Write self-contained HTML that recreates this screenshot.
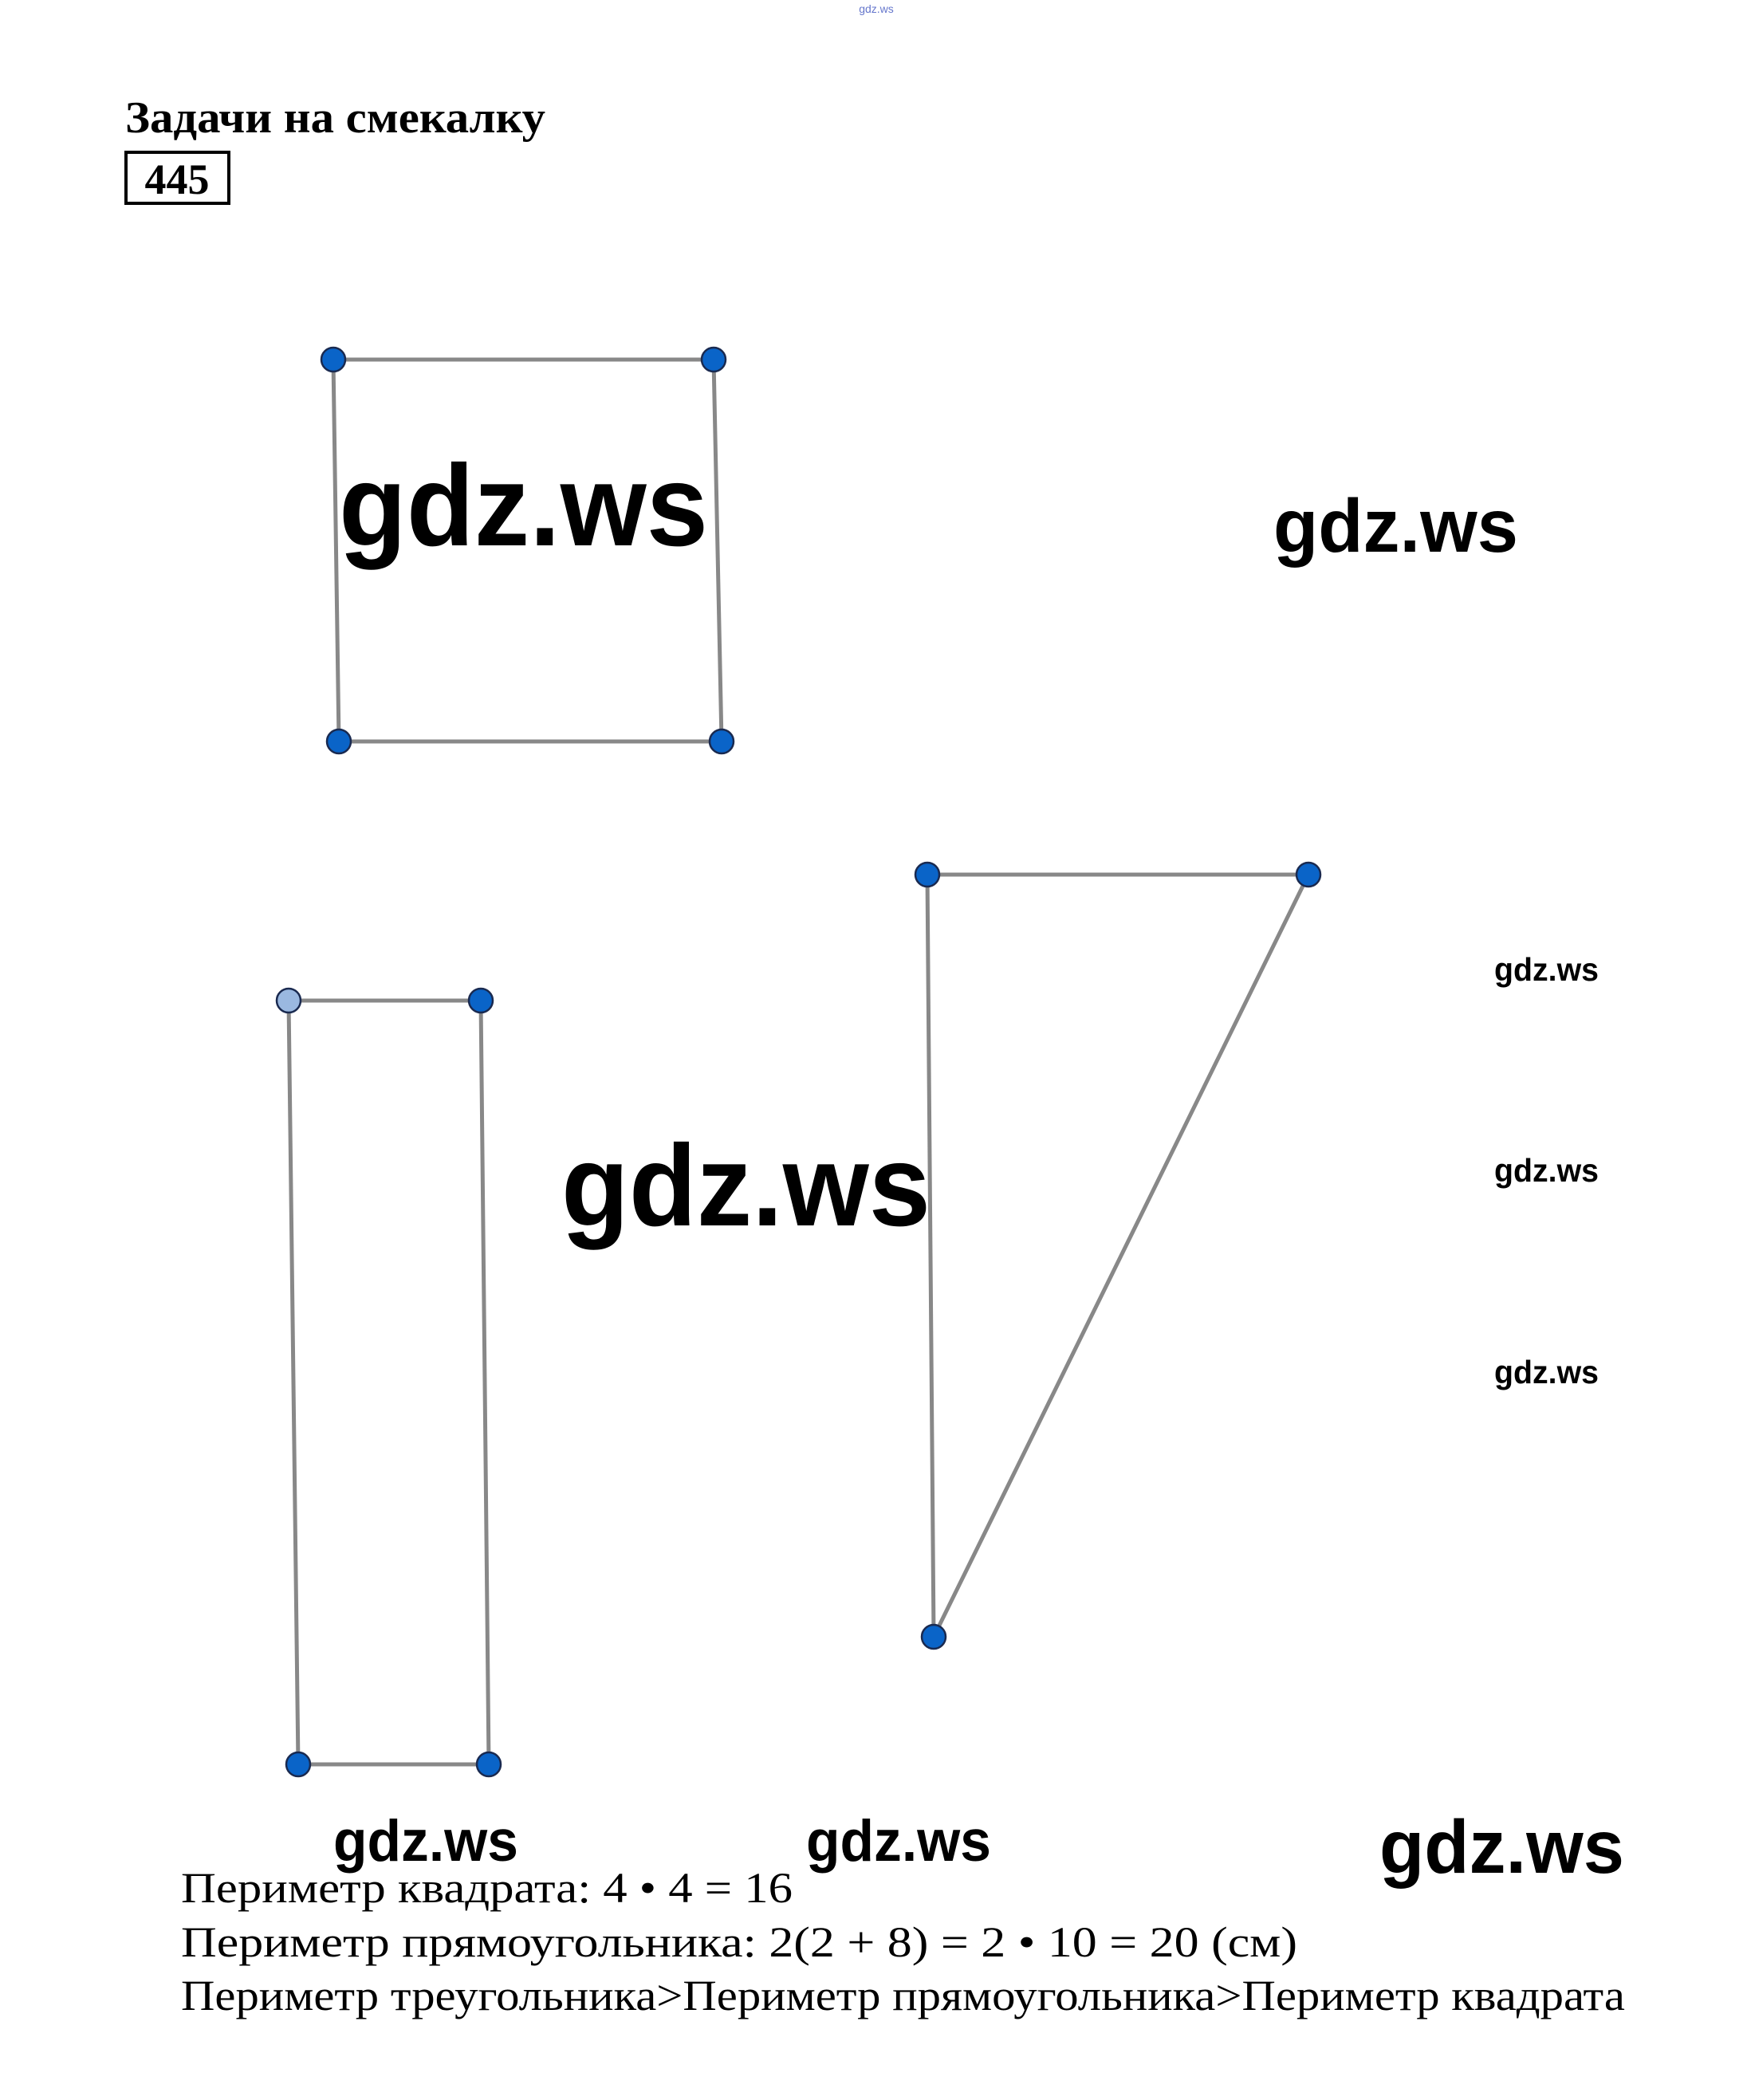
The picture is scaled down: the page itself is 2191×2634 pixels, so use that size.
<!DOCTYPE html>
<html><head><meta charset="utf-8"><style>
html,body{margin:0;padding:0;background:#fff;}
svg{display:block;}
</style></head><body>
<svg width="2191" height="2634" viewBox="0 0 2191 2634" xmlns="http://www.w3.org/2000/svg">
<rect width="2191" height="2634" fill="#fff"/>
<text x="1099" y="16" font-family="Liberation Sans, sans-serif" font-size="14" fill="#6677cc" text-anchor="middle">gdz.ws</text>
<text x="157" y="166" font-family="Liberation Serif, serif" font-size="56" font-weight="bold" textLength="527" lengthAdjust="spacingAndGlyphs">Задачи на смекалку</text>
<rect x="158" y="191" width="129" height="64" fill="none" stroke="#000" stroke-width="4"/>
<text x="222" y="243" font-family="Liberation Serif, serif" font-size="54" font-weight="bold" text-anchor="middle">445</text>

<g stroke="#888" stroke-width="5" fill="none">
<polygon points="418,451 895,451 905,930 425,930"/>
<polygon points="362,1255 603,1255 613,2213 374,2213"/>
<polygon points="1163,1097 1641,1097 1171,2053"/>
</g>
<g fill="#0a64c8" stroke="#1a2a50" stroke-width="2.5">
<circle cx="418" cy="451" r="15"/><circle cx="895" cy="451" r="15"/>
<circle cx="905" cy="930" r="15"/><circle cx="425" cy="930" r="15"/>
<circle cx="362" cy="1255" r="15" fill="#9ab8e0"/><circle cx="603" cy="1255" r="15"/>
<circle cx="613" cy="2213" r="15"/><circle cx="374" cy="2213" r="15"/>
<circle cx="1163" cy="1097" r="15"/><circle cx="1641" cy="1097" r="15"/>
<circle cx="1171" cy="2053" r="15"/>
</g>

<g font-family="Liberation Sans, sans-serif" font-weight="bold" fill="#000">
<text x="425" y="684" font-size="145" textLength="463" lengthAdjust="spacingAndGlyphs">gdz.ws</text>
<text x="1597" y="692" font-size="95" textLength="307" lengthAdjust="spacingAndGlyphs">gdz.ws</text>
<text x="704" y="1537" font-size="145" textLength="463" lengthAdjust="spacingAndGlyphs">gdz.ws</text>
<text x="1874" y="1230" font-size="41" textLength="131" lengthAdjust="spacingAndGlyphs">gdz.ws</text>
<text x="1874" y="1482" font-size="41" textLength="131" lengthAdjust="spacingAndGlyphs">gdz.ws</text>
<text x="1874" y="1735" font-size="41" textLength="131" lengthAdjust="spacingAndGlyphs">gdz.ws</text>
<text x="418" y="2334" font-size="73" textLength="232" lengthAdjust="spacingAndGlyphs">gdz.ws</text>
<text x="1011" y="2334" font-size="73" textLength="232" lengthAdjust="spacingAndGlyphs">gdz.ws</text>
<text x="1730" y="2349" font-size="95" textLength="307" lengthAdjust="spacingAndGlyphs">gdz.ws</text>
</g>

<g font-family="Liberation Serif, serif" font-size="54" fill="#000">
<text x="227" y="2386" textLength="767" lengthAdjust="spacingAndGlyphs">Периметр квадрата: 4 • 4 = 16</text>
<text x="227" y="2454" textLength="1400" lengthAdjust="spacingAndGlyphs">Периметр прямоугольника: 2(2 + 8) = 2 • 10 = 20 (см)</text>
<text x="227" y="2521" textLength="1811" lengthAdjust="spacingAndGlyphs">Периметр треугольника&gt;Периметр прямоугольника&gt;Периметр квадрата</text>
</g>
</svg>
</body></html>
